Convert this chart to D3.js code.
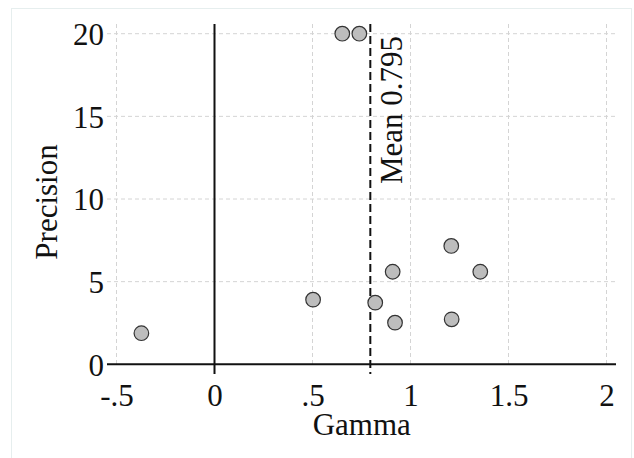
<!DOCTYPE html>
<html>
<head>
<meta charset="utf-8">
<script src="https://cdn.jsdelivr.net/npm/d3@7"></script>
<style>
  body { margin: 0; background: #fff; }
  text { font-family: "Liberation Serif", "Times New Roman", serif; fill: #111; }
</style>
</head>
<body>
<div id="chart"></div>
<script>
// Chart data
var gamma = [-0.373, 0.503, 0.820, 0.909, 0.921, 1.208, 1.210, 1.356, 0.652, 0.739];
var precision = [1.88, 3.91, 3.73, 5.60, 2.52, 7.16, 2.72, 5.60, 20, 20];
var meanGamma = 0.795;
var xTicks = [-0.5, 0, 0.5, 1, 1.5, 2];
var xTickLabels = ["-.5", "0", ".5", "1", "1.5", "2"];
var yTicks = [0, 5, 10, 15, 20];

var svgWidth = 634;
var svgHeight = 458;
var fontSize = 31;

var svg = d3.select("#chart")
  .append("svg")
  .attr("width", svgWidth)
  .attr("height", svgHeight);

// faint outer frame
svg.append("rect")
  .attr("x", 11.5).attr("y", 8.5)
  .attr("width", 620).attr("height", 452)
  .attr("fill", "#fff")
  .attr("stroke", "#e6eeee");

var xScale = d3.scaleLinear().domain([-0.5, 2]).range([116.5, 606.5]);
var yScale = d3.scaleLinear().domain([0, 20]).range([364.3, 33.7]);

var plotLeft = 107, plotRight = 616, plotTop = 24;

// grid lines
svg.append("g").selectAll("line")
  .data(yTicks.filter(d => d !== 0))
  .join("line")
  .attr("x1", plotLeft).attr("x2", plotRight)
  .attr("y1", d => yScale(d)).attr("y2", d => yScale(d))
  .attr("stroke", "#d4d4d4")
  .attr("stroke-dasharray", "4,3");

svg.append("g").selectAll("line")
  .data(xTicks.filter(d => d !== 0))
  .join("line")
  .attr("x1", d => xScale(d)).attr("x2", d => xScale(d))
  .attr("y1", plotTop).attr("y2", yScale(0))
  .attr("stroke", "#d4d4d4")
  .attr("stroke-dasharray", "4,3");

// axes (labels only)
var bottomAxis = d3.axisBottom(xScale)
  .tickValues(xTicks)
  .tickFormat((d, i) => xTickLabels[i])
  .tickSize(0)
  .tickPadding(0);

var xAxisG = svg.append("g")
  .attr("transform", "translate(0, 384)")
  .call(bottomAxis);
xAxisG.select(".domain").remove();
xAxisG.selectAll("text")
  .attr("font-size", fontSize)
  .attr("font-family", "Liberation Serif")
  .attr("dy", "0.72em")
  .attr("y", 0)
  .attr("fill", "#111");

var leftAxis = d3.axisLeft(yScale)
  .tickValues(yTicks)
  .tickSize(0)
  .tickPadding(0);

var yAxisG = svg.append("g")
  .attr("transform", "translate(104, 0)")
  .call(leftAxis);
yAxisG.select(".domain").remove();
yAxisG.selectAll("text")
  .attr("font-size", fontSize)
  .attr("font-family", "Liberation Serif")
  .attr("dy", "0.35em")
  .attr("fill", "#111");

// zero lines
svg.append("line")
  .attr("x1", plotLeft).attr("x2", plotRight)
  .attr("y1", yScale(0)).attr("y2", yScale(0))
  .attr("stroke", "#111")
  .attr("stroke-width", 2);

svg.append("line")
  .attr("x1", xScale(0)).attr("x2", xScale(0))
  .attr("y1", plotTop).attr("y2", 374)
  .attr("stroke", "#111")
  .attr("stroke-width", 2);

// mean line
svg.append("line")
  .attr("x1", xScale(meanGamma)).attr("x2", xScale(meanGamma))
  .attr("y1", plotTop).attr("y2", 374)
  .attr("stroke", "#111")
  .attr("stroke-width", 2)
  .attr("stroke-dasharray", "8,4");

svg.append("text")
  .attr("transform", `translate(${xScale(meanGamma) + 32}, 36) rotate(-90)`)
  .attr("text-anchor", "end")
  .attr("font-size", fontSize)
  .text("Mean " + meanGamma);

// points
svg.append("g").selectAll("circle")
  .data(gamma.map((g, i) => ({ g: g, p: precision[i] })))
  .join("circle")
  .attr("cx", d => xScale(d.g))
  .attr("cy", d => yScale(d.p))
  .attr("r", 7.3)
  .attr("fill", "#bdbdbd")
  .attr("stroke", "#333")
  .attr("stroke-width", 1.2);

// axis titles
svg.append("text")
  .attr("x", 361.7).attr("y", 435)
  .attr("text-anchor", "middle")
  .attr("font-size", fontSize)
  .text("Gamma");

svg.append("text")
  .attr("transform", "translate(57, 202) rotate(-90)")
  .attr("text-anchor", "middle")
  .attr("font-size", fontSize)
  .text("Precision");
</script>
</body>
</html>
